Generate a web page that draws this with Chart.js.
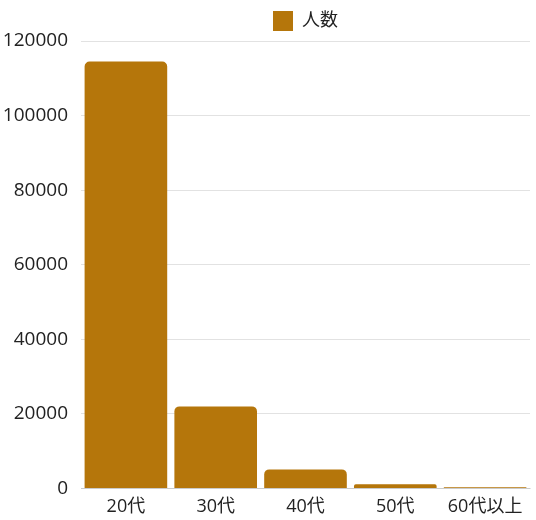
<!DOCTYPE html>
<html>
<head>
<meta charset="utf-8">
<script src="https://cdn.jsdelivr.net/npm/chart.js@4"></script>
<style>
  html, body { margin: 0; padding: 0; background: #fff; }
  #wrap { width: 536px; height: 520px; }
</style>
</head>
<body>
<div id="wrap"><canvas id="chart"></canvas></div>
<script>
const categories = ["20代", "30代", "40代", "50代", "60代以上"];
const counts = [114500, 22000, 5100, 1100, 300];
const seriesLabel = "人数";
const yTicks = [0, 20000, 40000, 60000, 80000, 100000, 120000];

Chart.defaults.font.family = "'Open Sans', 'Noto Sans CJK JP', sans-serif";
Chart.defaults.font.size = 18;
Chart.defaults.color = "#222";

// center the legend over the plot area rather than the whole canvas
const legendOverArea = {
    id: "legendOverArea",
    afterLayout(chart) {
        chart.legend.left = chart.chartArea.left;
        chart.legend.right = chart.chartArea.right;
    }
};

const ctx = document.getElementById("chart").getContext("2d");
new Chart(ctx, {
    type: "bar",
    data: {
        labels: categories,
        datasets: [{
            label: seriesLabel,
            data: counts,
            backgroundColor: "#b5760b",
            borderRadius: 5,
            categoryPercentage: 1,
            barPercentage: 0.92
        }]
    },
    plugins: [legendOverArea],
    options: {
        responsive: true,
        maintainAspectRatio: false,
        animation: false,
        layout: { padding: { right: 6, left: 3, bottom: 2 } },
        plugins: {
            legend: {
                labels: { boxWidth: 20, boxHeight: 20, padding: 11 }
            }
        },
        scales: {
            x: {
                grid: { display: false },
                ticks: { padding: 0 }
            },
            y: {
                min: 0,
                max: yTicks[yTicks.length - 1],
                afterBuildTicks: (axis) => {
                    axis.ticks = yTicks.map(v => ({ value: v }));
                },
                afterFit: (axis) => {
                    axis.width = 78;
                },
                border: { display: false },
                grid: { color: "#e2e2e2", drawTicks: false },
                ticks: { padding: 13, font: { size: 19 }, callback: (v) => String(v) }
            }
        }
    }
});
</script>
</body>
</html>
